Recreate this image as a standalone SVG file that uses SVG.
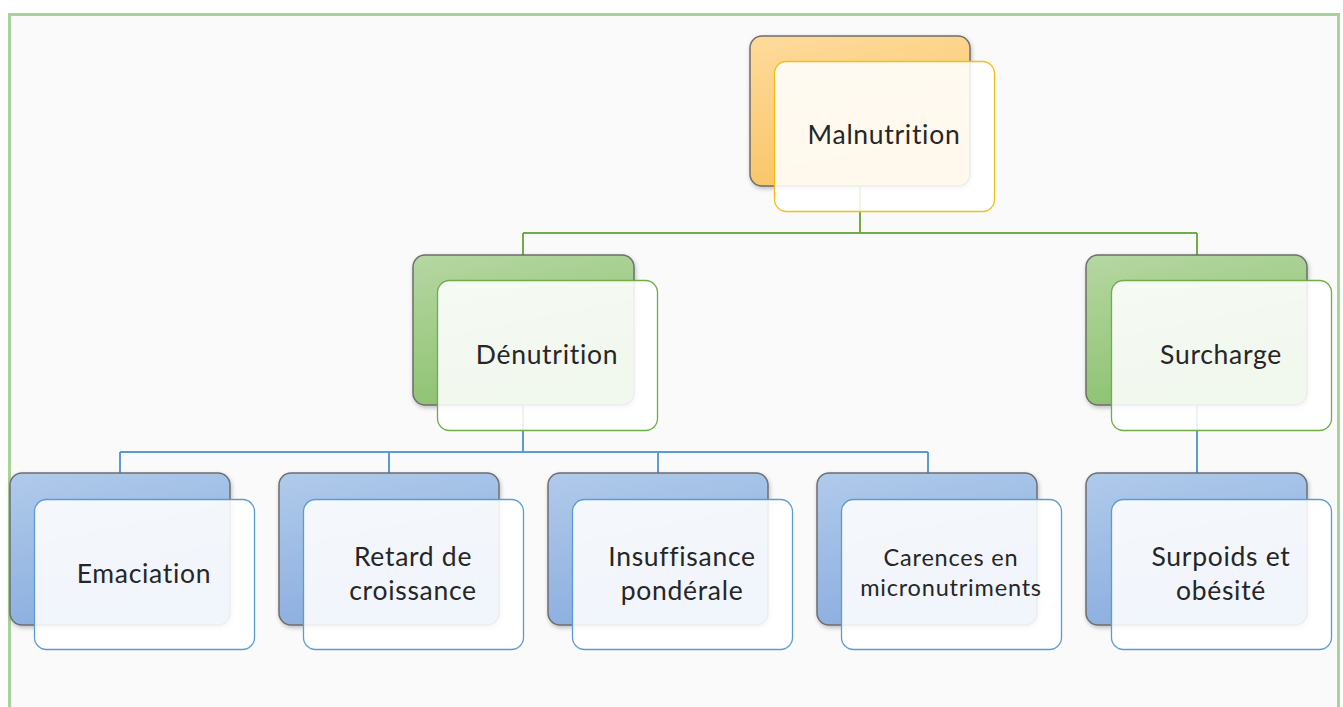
<svg xmlns="http://www.w3.org/2000/svg" width="1343" height="707" viewBox="0 0 1343 707">
<defs>
<linearGradient id="gO" x1="0" y1="0" x2="0.3" y2="1"><stop offset="0" stop-color="#FEDB9C"/><stop offset="1" stop-color="#F9C566"/></linearGradient>
<linearGradient id="gG" x1="0" y1="0" x2="0.3" y2="1"><stop offset="0" stop-color="#B6D7A3"/><stop offset="1" stop-color="#8DC270"/></linearGradient>
<linearGradient id="gB" x1="0" y1="0" x2="0.3" y2="1"><stop offset="0" stop-color="#B0CAEA"/><stop offset="1" stop-color="#8CAFE0"/></linearGradient>
<filter id="sh" x="-10%" y="-10%" width="125%" height="125%"><feDropShadow dx="1" dy="2" stdDeviation="2" flood-color="#000" flood-opacity="0.25"/></filter>
</defs>
<style>
.back{stroke:#6E6E6E;stroke-width:1.5;filter:url(#sh)}
.front{fill:#FFFFFF;fill-opacity:0.88;stroke-width:1.3}
.t{font-family:"Lato","Noto Sans","Liberation Sans",sans-serif;font-weight:400;font-size:26.5px;letter-spacing:0.7px;font-variant-ligatures:none;fill:#262626;text-anchor:middle}
.s{font-size:23.5px;letter-spacing:0.8px}
.conn{fill:none;stroke-width:2}
</style>
<rect x="0" y="0" width="1343" height="707" fill="#FFFFFF"/>
<rect x="9.5" y="14.5" width="1329" height="710" fill="#FAFAFA" stroke="#A8D39A" stroke-width="3"/>
<g id="connectors">
<path class="conn" stroke="#70AD47" d="M860 186V233M523 233H1197M523 233V255M1197 233V255"/>
<path class="conn" stroke="#5B9BD5" d="M523 405V452M120 452H928M120 452V473M389 452V473M658 452V473M928 452V473M1197 405V473"/>
</g>
<g id="malnutrition">
<rect class="back" x="750" y="36" width="220" height="150" rx="12" fill="url(#gO)"/>
<rect class="front" x="774.5" y="61.5" width="220" height="150" rx="12" stroke="#F2BE1E"/>
<text class="t" x="884" y="144">Malnutrition</text>
</g>
<g id="denutrition">
<rect class="back" x="413" y="255" width="221" height="150" rx="12" fill="url(#gG)"/>
<rect class="front" x="437.5" y="280.5" width="220" height="150" rx="12" stroke="#70AD47"/>
<text class="t" x="547" y="364">Dénutrition</text>
</g>
<g id="surcharge">
<rect class="back" x="1086" y="255" width="221" height="150" rx="12" fill="url(#gG)"/>
<rect class="front" x="1111.5" y="280.5" width="220" height="150" rx="12" stroke="#70AD47"/>
<text class="t" x="1221" y="364">Surcharge</text>
</g>
<g id="emaciation">
<rect class="back" x="10" y="473" width="220" height="152" rx="12" fill="url(#gB)"/>
<rect class="front" x="34.5" y="499.5" width="220" height="150" rx="12" stroke="#5B9BD5"/>
<text class="t" x="144" y="583">Emaciation</text>
</g>
<g id="retard">
<rect class="back" x="279" y="473" width="220" height="152" rx="12" fill="url(#gB)"/>
<rect class="front" x="303.5" y="499.5" width="220" height="150" rx="12" stroke="#5B9BD5"/>
<text class="t" x="413" y="566">Retard de</text>
<text class="t" x="413" y="600">croissance</text>
</g>
<g id="insuffisance">
<rect class="back" x="548" y="473" width="220" height="152" rx="12" fill="url(#gB)"/>
<rect class="front" x="572.5" y="499.5" width="220" height="150" rx="12" stroke="#5B9BD5"/>
<text class="t" x="682" y="566">Insuffisance</text>
<text class="t" x="682" y="600">pondérale</text>
</g>
<g id="carences">
<rect class="back" x="817" y="473" width="220" height="152" rx="12" fill="url(#gB)"/>
<rect class="front" x="841.5" y="499.5" width="220" height="150" rx="12" stroke="#5B9BD5"/>
<text class="t s" x="951" y="566">Carences en</text>
<text class="t s" x="951" y="596">micronutriments</text>
</g>
<g id="surpoids">
<rect class="back" x="1086" y="473" width="221" height="152" rx="12" fill="url(#gB)"/>
<rect class="front" x="1111.5" y="499.5" width="220" height="150" rx="12" stroke="#5B9BD5"/>
<text class="t" x="1221" y="566">Surpoids et</text>
<text class="t" x="1221" y="600">obésité</text>
</g>
</svg>
